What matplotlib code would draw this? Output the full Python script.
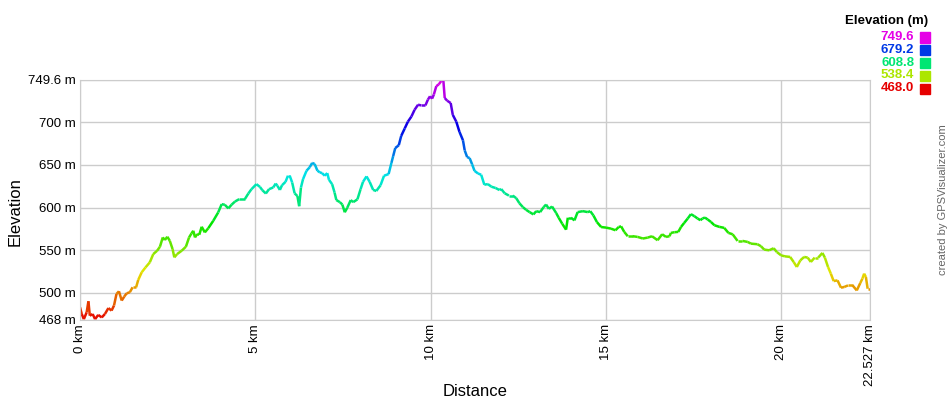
import numpy as np
import matplotlib
matplotlib.use("Agg")
import matplotlib.pyplot as plt
from matplotlib.collections import LineCollection
from matplotlib.colors import hsv_to_rgb

plt.rcParams['font.family'] = ['Liberation Sans', 'DejaVu Sans']

# distance (km) and elevation (m)
dist_km = [
    0.00, 0.05, 0.11, 0.19, 0.24, 0.28, 0.36, 0.43, 0.52, 0.62, 0.71, 0.81, 0.90, 0.97,
    1.04, 1.11, 1.19, 1.26, 1.33, 1.42, 1.50, 1.60, 1.66, 1.76, 1.87, 1.99, 2.09, 2.20,
    2.28, 2.36, 2.42, 2.49, 2.56, 2.64, 2.69, 2.77, 2.90, 3.02, 3.11, 3.18, 3.23, 3.28,
    3.34, 3.40, 3.47, 3.56, 3.66, 3.80, 3.94, 4.04, 4.13, 4.23, 4.32, 4.42, 4.54, 4.70,
    4.80, 4.89, 5.03, 5.13, 5.20, 5.30, 5.39, 5.51, 5.58, 5.63, 5.70, 5.76, 5.86, 5.93,
    5.98, 6.05, 6.12, 6.20, 6.25, 6.30, 6.36, 6.46, 6.55, 6.62, 6.69, 6.77, 6.84, 6.90,
    6.98, 7.05, 7.10, 7.19, 7.26, 7.31, 7.41, 7.48, 7.55, 7.62, 7.72, 7.79, 7.91, 8.00,
    8.07, 8.17, 8.26, 8.36, 8.45, 8.57, 8.67, 8.80, 8.88, 8.93, 8.99, 9.09, 9.16, 9.26,
    9.35, 9.45, 9.54, 9.64, 9.73, 9.85, 9.92, 9.98, 10.04, 10.09, 10.16, 10.23, 10.30,
    10.36, 10.40, 10.47, 10.57, 10.63, 10.73, 10.82, 10.92, 10.97, 11.04, 11.11, 11.18,
    11.25, 11.35, 11.44, 11.53, 11.63, 11.73, 11.85, 11.96, 12.01, 12.11, 12.23, 12.34,
    12.44, 12.53, 12.63, 12.72, 12.82, 12.93, 13.01, 13.12, 13.22, 13.29, 13.37, 13.46,
    13.58, 13.65, 13.75, 13.86, 13.91, 14.00, 14.10, 14.19, 14.34, 14.48, 14.55, 14.64,
    14.74, 14.86, 15.00, 15.14, 15.27, 15.36, 15.43, 15.52, 15.62, 15.76, 15.90, 16.05,
    16.19, 16.31, 16.47, 16.60, 16.71, 16.81, 16.85, 16.95, 17.06, 17.14, 17.23, 17.33,
    17.42, 17.52, 17.61, 17.69, 17.75, 17.82, 17.90, 17.99, 18.09, 18.23, 18.37, 18.49,
    18.61, 18.75, 18.89, 19.04, 19.13, 19.32, 19.42, 19.51, 19.65, 19.78, 19.87, 19.99,
    20.10, 20.25, 20.35, 20.44, 20.54, 20.65, 20.75, 20.84, 20.95, 21.05, 21.17, 21.24,
    21.33, 21.41, 21.49, 21.60, 21.70, 21.79, 21.90, 22.03, 22.15, 22.25, 22.31, 22.36,
    22.41, 22.46, 22.527,
]
elev_m = [
    482.9, 475.0, 469.0, 477.0, 490.0, 473.0, 475.0, 469.0, 474.0, 471.0, 475.0, 482.0, 479.0, 485.0,
    498.5, 501.7, 490.8, 495.4, 499.3, 500.5, 506.4, 506.4, 515.0, 524.0, 529.8, 535.6, 545.4, 549.3,
    554.0, 564.9, 561.8, 565.7, 561.0, 551.2, 541.5, 545.4, 549.3, 554.0, 564.9, 569.6, 572.7, 564.9,
    568.8, 568.0, 577.4, 570.8, 575.8, 584.4, 594.2, 603.9, 603.2, 598.9, 603.2, 607.0, 609.8, 609.8,
    616.4, 621.5, 627.4, 624.2, 620.3, 616.4, 621.5, 623.5, 628.1, 625.4, 620.6, 626.1, 630.1, 637.3,
    637.3, 629.3, 616.6, 613.4, 601.5, 623.4, 633.3, 643.2, 647.2, 652.3, 651.1, 643.2, 641.2, 640.4,
    637.3, 640.4, 632.5, 627.3, 617.4, 608.7, 606.3, 603.5, 594.4, 599.6, 608.7, 606.3, 609.5, 621.4,
    630.1, 636.5, 630.1, 620.6, 619.4, 626.1, 637.3, 639.2, 652.3, 660.3, 669.8, 673.0, 684.1, 692.8,
    700.7, 706.7, 714.6, 720.6, 719.8, 719.8, 726.5, 730.5, 727.7, 732.5, 742.4, 744.4, 748.4,
    749.6, 728.5, 725.3, 722.6, 708.7, 700.7, 688.8, 678.9, 667.0, 659.1, 658.0, 650.8,
    643.0, 639.9, 638.4, 626.7, 627.5, 624.4, 622.9, 620.5, 621.7, 616.7, 614.0, 614.0,
    610.9, 605.0, 600.4, 597.3, 594.6, 591.9, 595.7, 594.6, 600.4, 603.5, 598.4, 601.2,
    593.4, 588.0, 581.0, 574.0, 588.0, 588.0, 584.9, 594.6, 595.7, 594.6, 595.7, 590.7,
    582.9, 577.1, 576.4, 575.2, 573.3, 577.1, 577.9, 571.3, 566.3, 566.3, 565.5, 563.6,
    564.7, 566.3, 561.6, 568.6, 565.5, 566.3, 570.2, 571.0, 571.4, 577.3, 582.0, 587.1,
    592.2, 589.8, 587.1, 585.1, 587.1, 588.2, 585.9, 583.1, 579.2, 577.3, 576.1, 570.2,
    568.6, 560.8, 560.8, 559.6, 557.6, 556.9, 554.5, 550.6, 549.8, 552.2, 547.8, 543.9,
    542.7, 542.0, 536.1, 530.2, 538.0, 542.0, 541.2, 536.1, 541.2, 541.2, 546.7, 541.2,
    530.2, 522.4, 513.7, 514.5, 505.9, 506.7, 508.6, 508.6, 502.7, 511.4, 516.5, 522.4,
    518.4, 504.7, 504.7,
]

y_min, y_max = 468.0, 749.6
x_max = 22.527
y_ticks = [468, 500, 550, 600, 650, 700, 749.6]
y_labels = ["468 m", "500 m", "550 m", "600 m", "650 m", "700 m", "749.6 m"]
x_ticks = [0, 5, 10, 15, 20, 22.527]
x_labels = ["0 km", "5 km", "10 km", "15 km", "20 km", "22.527 km"]
legend_vals = [749.6, 679.2, 608.8, 538.4, 468.0]


def elev_color(v):
    h = (v - y_min) / (y_max - y_min) * 300.0 / 360.0
    return hsv_to_rgb([min(max(h, 0), 0.8333), 1.0, 0.9])


fig = plt.figure(figsize=(9.5, 4), dpi=100)
ax = fig.add_axes([80 / 950, 80 / 400, 790 / 950, 240 / 400])

x = np.array(dist_km)
y = np.array(elev_m)
pts = np.column_stack([x, y]).reshape(-1, 1, 2)
segs = np.concatenate([pts[:-1], pts[1:]], axis=1)
cols = [elev_color((a + b) / 2) for a, b in zip(y[:-1], y[1:])]
lc = LineCollection(segs, colors=cols, linewidths=1.8, capstyle='butt', joinstyle='miter')
ax.add_collection(lc)

ax.set_xlim(0, x_max)
ax.set_ylim(y_min, y_max)
ax.set_yticks(y_ticks)
ax.set_yticklabels(y_labels, fontsize=9.5)
ax.set_xticks(x_ticks)
ax.set_xticklabels(x_labels, fontsize=9.5, rotation=90)
ax.tick_params(length=0, pad=3)
ax.grid(True, color='#cccccc', linewidth=1)
ax.set_axisbelow(True)
for s in ax.spines.values():
    s.set_color('#cccccc')

# axis titles placed where the reference has them
fig.text(15 / 950, 1 - 212 / 400, "Elevation", rotation=90, ha='center', va='center',
         fontsize=12)
fig.text(475 / 950, 1 - 392 / 400, "Distance", ha='center', va='center', fontsize=12)

# legend at top right
fig.text(928 / 950, 1 - 21 / 400, "Elevation (m)", ha='right', va='center',
         fontsize=9.5, fontweight='bold')
for i, v in enumerate(legend_vals):
    yy = 1 - (37 + i * 12.8) / 400
    c = elev_color(v)
    fig.text(914 / 950, yy, "%.1f" % v, ha='right', va='center', fontsize=9.5,
             fontweight='bold', color=c)
    fig.patches.append(plt.Rectangle((920 / 950, yy - 5.5 / 400), 10 / 950, 10 / 400,
                                     transform=fig.transFigure, color=c, figure=fig))

fig.text(943 / 950, 1 - 200 / 400, "created by GPSVisualizer.com", rotation=90,
         ha='center', va='center', fontsize=8, color='#666666')

fig.savefig("out.png", dpi=100)
